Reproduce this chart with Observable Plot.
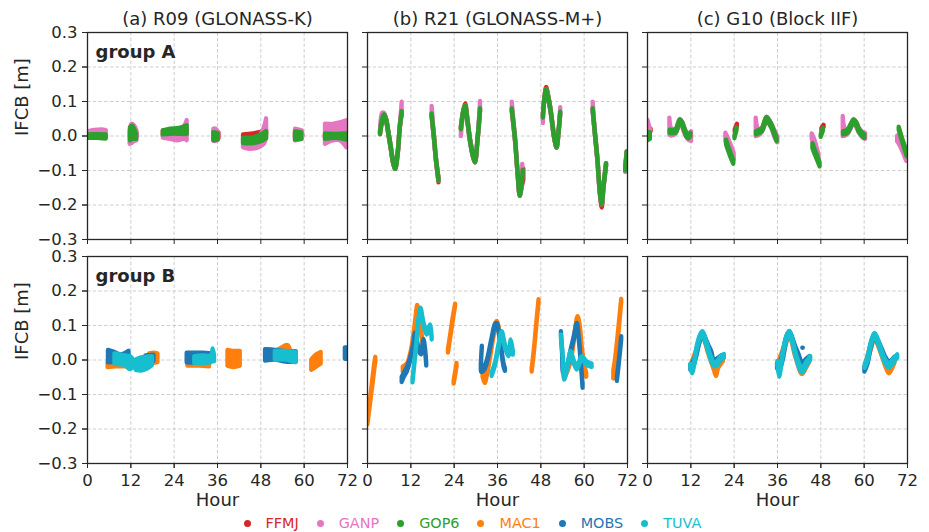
<!DOCTYPE html>
<html><head><meta charset="utf-8">
<script src="https://cdn.jsdelivr.net/npm/d3@7"></script>
<script src="https://cdn.jsdelivr.net/npm/@observablehq/plot@0.6"></script>
<style>
body{margin:0;background:#fff;font-family:"DejaVu Sans",sans-serif;}
#wrap{width:929px;height:532px;position:relative;overflow:hidden;background:#fff}
#legend{position:absolute;left:243.5px;top:512px;height:22px;display:flex;align-items:center;font-size:14.4px;white-space:nowrap}
.item{display:flex;align-items:center;margin-right:18px}
.dot{width:7px;height:7px;border-radius:50%;margin-right:15px}
</style></head><body><div id="wrap"><div id="chart"></div><div id="legend"></div></div>
<script>
// ---- axes / categories ----
const hours = [0, 12, 24, 36, 48, 60, 72];
const ifcbTicks = [-0.3, -0.2, -0.1, 0, 0.1, 0.2, 0.3];
const panelKeys = ["a", "b", "c"];
const panelTitles = ["(a) R09 (GLONASS-K)", "(b) R21 (GLONASS-M+)", "(c) G10 (Block IIF)"];
const groupKeys = ["A", "B"];
const groupLabels = ["group A", "group B"];
const centers = ["FFMJ", "GANP", "GOP6", "MAC1", "MOBS", "TUVA"];
const centerColors = ["#d62728", "#e377c2", "#2ca02c", "#ff7f0e", "#1f77b4", "#17becf"];

// ---- data: arcs of [hour, low IFCB, high IFCB] (m) ----
// panel (a) R09, group A
const a_FFMJ = [
 [[0.3,-0.005,0.004],[5.1,-0.005,0.004]],
 [[11.9,-0.005,0.012],[13.7,-0.003,0.008]],
 [[21,-0.002,0.015],[24.5,-0.007,0.01],[26,-0.006,0.015],[27.6,0.003,0.025]],
 [[35,-0.01,0.012],[36.4,-0.008,0.01]],
 [[43.2,-0.004,0.003],[46,0.0,0.006],[49.6,0.003,0.015]],
 [[57.6,-0.005,0.01],[59.6,-0.001,0.006]],
 [[65.9,-0.005,0.005],[71.8,-0.005,0.005]]
];
const a_GANP = [
 [[0.2,-0.004,0.012],[2,-0.006,0.016],[4,-0.006,0.018],[5.2,-0.006,0.016]],
 [[11.8,-0.024,0.014],[12.3,-0.022,0.034],[13,-0.016,0.03],[13.7,-0.014,0.015]],
 [[21,-0.006,0.005],[23,-0.01,0.005],[25,-0.014,0.01],[27,-0.01,0.03],[27.6,-0.014,0.045]],
 [[35,-0.015,0.02],[35.6,-0.016,0.02],[36.3,-0.01,0.01]],
 [[43.2,-0.034,-0.008],[45,-0.039,-0.012],[47.5,-0.034,-0.004],[49,-0.024,0.025],[49.6,-0.005,0.05]],
 [[57.6,-0.014,0.02],[59.5,-0.01,0.015]],
 [[65.9,-0.024,0.034],[68,-0.014,0.034],[70,-0.014,0.038],[71.8,-0.034,0.044]]
];
const a_GOP6 = [
 [[0.2,-0.007,0.003],[2.5,-0.007,0.004],[5.2,-0.009,0.003]],
 [[11.9,-0.014,0.024],[12.5,-0.01,0.029],[13.6,-0.01,0.005]],
 [[21,0.003,0.015],[23,0.005,0.02],[25.5,0.005,0.022],[27.6,0.004,0.03]],
 [[35,-0.014,0.01],[36.2,-0.012,0.007]],
 [[43.2,-0.022,-0.007],[46,-0.022,-0.005],[48.5,-0.015,0.005],[49.6,-0.008,0.013]],
 [[57.6,-0.012,0.012],[59.3,-0.01,0.01]],
 [[65.9,-0.01,0.006],[69,-0.007,0.005],[71.8,-0.012,0.006]]
];
// panel (b) R21, group A
const b_FFMJ = [
 [[3.6,0.004,0.012],[4.1,0.035,0.045],[4.7,0.054,0.062],[5.3,0.04,0.048],[5.9,0.004,0.012],[6.6,-0.04,-0.032],[7.1,-0.074,-0.066],[7.8,-0.097,-0.089],[8.5,-0.054,-0.046],[9.1,0.023,0.031],[9.6,0.063,0.071]],
 [[17.9,0.056,0.064],[18.6,-0.016,-0.008],[19.1,-0.074,-0.066],[19.8,-0.136,-0.123]],
 [[26.0,0.018,0.026],[26.7,0.066,0.076],[27.2,0.079,0.093],[27.8,0.04,0.05],[28.5,-0.016,-0.008],[29.3,-0.06,-0.052],[29.9,-0.078,-0.07],[30.6,-0.016,-0.008],[31.3,0.071,0.079]],
 [[40.1,0.071,0.079],[41.0,-0.016,-0.008],[41.7,-0.112,-0.104],[42.3,-0.175,-0.167],[42.8,-0.15,-0.142],[43.3,-0.128,-0.095]],
 [[48.7,0.052,0.06],[49.1,0.1,0.11],[49.6,0.127,0.141],[50.2,0.105,0.115],[50.8,0.071,0.079],[51.8,-0.006,0.002],[52.5,-0.035,-0.027],[53.1,0.013,0.021],[53.5,0.061,0.069]],
 [[62.5,0.071,0.079],[63.1,0.004,0.012],[63.8,-0.073,-0.065],[64.5,-0.171,-0.161],[65.0,-0.209,-0.192],[65.5,-0.152,-0.142],[66.2,-0.088,-0.08]],
 [[71.5,-0.102,-0.094],[71.9,-0.054,-0.046]]
];
const b_GANP = [
 [[3.6,0.004,0.012],[4.2,0.045,0.066],[4.7,0.054,0.066],[5.3,0.04,0.048],[5.9,0.004,0.012],[6.6,-0.04,-0.032],[7.1,-0.074,-0.066],[7.8,-0.097,-0.089],[8.5,-0.054,-0.046],[9.1,0.023,0.031],[9.6,0.063,0.098]],
 [[17.9,0.056,0.086],[18.6,-0.016,-0.008],[19.1,-0.074,-0.066],[19.8,-0.131,-0.123]],
 [[26.0,-0.002,0.026],[26.7,0.066,0.074],[27.2,0.079,0.087],[27.8,0.04,0.048],[28.5,-0.016,-0.008],[29.3,-0.06,-0.052],[29.9,-0.078,-0.07],[30.6,-0.016,-0.008],[31.3,0.071,0.1]],
 [[40.1,0.071,0.098],[41.0,-0.016,-0.008],[41.7,-0.112,-0.104],[42.3,-0.175,-0.167],[42.8,-0.15,-0.142],[43.0,-0.107,-0.082]],
 [[48.7,0.036,0.06],[49.1,0.1,0.108],[49.6,0.127,0.135],[50.2,0.105,0.113],[50.8,0.071,0.079],[51.8,-0.006,0.002],[52.5,-0.035,-0.027],[53.1,0.013,0.021],[53.5,0.061,0.082]],
 [[62.5,0.071,0.098],[63.1,0.004,0.012],[63.8,-0.073,-0.065],[64.5,-0.169,-0.161],[65.0,-0.2,-0.192],[65.5,-0.15,-0.142],[66.2,-0.088,-0.08]],
 [[71.5,-0.106,-0.094],[71.9,-0.054,-0.046]]
];
const b_GOP6 = [
 [[3.6,0.004,0.012],[4.1,0.035,0.045],[4.7,0.054,0.062],[5.3,0.04,0.048],[5.9,0.004,0.012],[6.6,-0.04,-0.032],[7.1,-0.074,-0.066],[7.8,-0.097,-0.089],[8.5,-0.054,-0.046],[9.1,0.023,0.031],[9.6,0.063,0.071]],
 [[17.9,0.056,0.064],[18.6,-0.016,-0.008],[19.1,-0.074,-0.066],[19.8,-0.131,-0.123]],
 [[26.0,0.018,0.026],[26.7,0.066,0.074],[27.2,0.079,0.087],[27.8,0.04,0.048],[28.5,-0.016,-0.008],[29.3,-0.06,-0.052],[29.9,-0.078,-0.07],[30.6,-0.016,-0.008],[31.3,0.071,0.079]],
 [[40.1,0.071,0.079],[41.0,-0.016,-0.008],[41.7,-0.112,-0.104],[42.3,-0.175,-0.167],[42.8,-0.15,-0.142],[43.1,-0.107,-0.099]],
 [[48.7,0.052,0.06],[49.1,0.1,0.108],[49.6,0.127,0.135],[50.2,0.105,0.113],[50.8,0.071,0.079],[51.8,-0.006,0.002],[52.5,-0.035,-0.027],[53.1,0.013,0.021],[53.5,0.061,0.069]],
 [[62.5,0.071,0.079],[63.1,0.004,0.012],[63.8,-0.073,-0.065],[64.5,-0.169,-0.161],[65.0,-0.2,-0.192],[65.5,-0.15,-0.142],[66.2,-0.088,-0.08]],
 [[71.5,-0.102,-0.094],[71.9,-0.054,-0.046]]
];
// panel (c) G10, group A
const c_FFMJ = [
 [[0.4,0.012,0.02],[1.0,0.012,0.02]],
 [[6.3,0.008,0.016],[7.9,0.009,0.017],[8.6,0.026,0.034],[9.1,0.038,0.046],[9.7,0.031,0.039],[10.4,0.011,0.019],[11.0,-0.004,0.004],[11.5,-0.007,0.001],[12.1,0.0,0.01]],
 [[24.3,0.01,0.018],[24.9,0.027,0.034]],
 [[30.2,0.004,0.012],[31.8,0.013,0.021],[32.5,0.031,0.039],[33.1,0.045,0.053],[33.8,0.036,0.044],[34.5,0.023,0.031],[35.2,0.004,0.012],[35.9,-0.016,-0.008]],
 [[48.3,0.014,0.022],[48.9,0.024,0.031]],
 [[54.3,0.004,0.012],[55.5,0.008,0.016],[56.5,0.026,0.034],[57.2,0.037,0.045],[58,0.029,0.037],[58.6,0.013,0.021],[59.4,0.001,0.009],[60.2,-0.006,0.002]],
 [[69.3,-0.016,-0.008],[69.8,-0.01,0.0]]
];
const c_GANP = [
 [[0.1,-0.004,0.046],[0.8,-0.004,0.02]],
 [[6.2,0.002,0.052],[6.8,0.0,0.02],[7.9,0.005,0.02],[9.1,0.035,0.048],[10.4,0.006,0.02],[11.4,-0.012,0.006],[12.2,-0.016,0.012]],
 [[21.7,-0.016,0.008],[22.5,-0.04,-0.01],[23.3,-0.06,-0.03],[24.0,-0.07,-0.05]],
 [[30.1,-0.002,0.052],[30.8,0.0,0.02],[31.8,0.01,0.02],[33.1,0.042,0.055],[34.5,0.02,0.033],[35.3,-0.005,0.015],[36.1,-0.02,-0.002]],
 [[45.6,-0.008,0.006],[46.3,-0.035,-0.01],[47.0,-0.06,-0.035],[47.5,-0.075,-0.055]],
 [[54.2,-0.002,0.057],[54.9,0.0,0.02],[55.8,0.008,0.02],[57.2,0.035,0.048],[58.6,0.01,0.024],[59.5,-0.004,0.012],[60.4,-0.01,0.008]],
 [[69.3,-0.016,0.0],[70.5,-0.04,-0.01],[71.8,-0.074,-0.044]]
];
const c_GOP6 = [
 [[0.1,-0.014,0.01],[0.8,-0.01,0.01]],
 [[6.3,0.007,0.017],[7.9,0.008,0.018],[8.6,0.025,0.035],[9.1,0.037,0.047],[9.7,0.03,0.04],[10.4,0.01,0.02],[11.0,-0.005,0.005],[11.5,-0.008,0.002],[12.0,-0.002,0.008]],
 [[21.9,-0.026,-0.012],[22.5,-0.045,-0.032],[23.2,-0.065,-0.052],[23.9,-0.082,-0.07]],
 [[24.2,-0.008,0.0],[24.8,0.016,0.024]],
 [[30.2,0.003,0.013],[31.8,0.012,0.022],[32.5,0.03,0.04],[33.1,0.044,0.054],[33.8,0.035,0.045],[34.5,0.022,0.032],[35.2,0.003,0.013],[35.9,-0.017,-0.007]],
 [[45.8,-0.036,-0.022],[46.5,-0.056,-0.042],[47.2,-0.074,-0.06],[47.8,-0.09,-0.078]],
 [[48.1,-0.004,0.004],[48.7,0.014,0.022]],
 [[54.3,0.003,0.013],[55.5,0.007,0.017],[56.5,0.025,0.035],[57.2,0.036,0.046],[58,0.028,0.038],[58.6,0.012,0.022],[59.4,0.0,0.01],[60.2,-0.007,0.003]],
 [[69.7,0.016,0.026],[70.6,-0.016,-0.006],[71.9,-0.06,-0.048]]
];
// panel (a) R09, group B
const a_MAC1 = [
 [[5.7,-0.022,-0.008],[8,-0.02,-0.01],[11,-0.02,-0.012]],
 [[17.2,-0.008,0.018],[18.4,-0.01,0.02],[19.5,-0.008,0.018]],
 [[27.8,-0.018,-0.008],[31,-0.018,-0.01],[33.8,-0.02,-0.01]],
 [[38.9,-0.018,0.028],[40.5,-0.022,0.025],[42.3,-0.018,0.025]],
 [[49.5,0.018,0.03],[52.5,0.018,0.028],[55.5,0.02,0.042],[56.2,0.02,0.028]],
 [[62.1,-0.03,0.0],[63.5,-0.02,0.015],[64.7,-0.012,0.022]]
];
const a_MOBS = [
 [[5.8,-0.008,0.028],[7.5,-0.006,0.022],[9.5,0.0,0.015],[11.5,0.008,0.025]],
 [[16.2,-0.004,0.012],[18.4,-0.004,0.014]],
 [[27.6,-0.008,0.02],[30,-0.008,0.02],[32,0.002,0.02],[34.3,0.002,0.018]],
 [[49.3,-0.003,0.03],[52,0.0,0.028],[55,-0.006,0.024],[57.8,-0.006,0.024]],
 [[71.4,0.002,0.035],[71.9,0.002,0.035]]
];
const a_TUVA = [
 [[7.6,-0.012,0.018],[9,-0.014,0.015],[10.5,-0.016,0.012],[11.8,-0.028,0.01],[12.5,-0.025,0.004]],
 [[13.5,-0.03,0.0],[15,-0.032,0.006],[16.5,-0.027,0.008],[18,-0.016,0.01]],
 [[29.7,-0.01,0.01],[32,-0.01,0.012],[34.3,-0.008,0.012],[34.8,-0.005,0.032],[35.2,-0.005,0.01]],
 [[52,0.0,0.025],[55,0.0,0.025],[57.8,-0.008,0.022]]
];
// panel (b) R21, group B
const b_MAC1 = [
 [[0.1,-0.188,-0.178],[0.6,-0.148,-0.135],[1.1,-0.105,-0.09],[1.6,-0.065,-0.045],[2.0,-0.03,-0.01],[2.3,-0.005,0.008]],
 [[9.9,-0.035,-0.02],[11.0,-0.025,-0.012],[12.0,0.01,0.02],[12.8,0.06,0.07],[13.4,0.11,0.12],[13.9,0.15,0.158],[14.4,0.125,0.135],[14.9,0.08,0.09],[15.5,0.04,0.05]],
 [[22.4,0.02,0.03],[23.0,0.06,0.07],[23.7,0.11,0.12],[24.4,0.155,0.162]],
 [[24.0,-0.07,-0.06],[24.4,-0.045,-0.035],[24.8,-0.02,-0.01]],
 [[32.0,-0.05,-0.03],[32.6,-0.068,-0.05],[33.3,-0.04,-0.025],[34.0,0.0,0.01],[35.0,0.065,0.075],[35.9,0.105,0.112],[36.6,0.075,0.085],[37.3,0.015,0.025]],
 [[45.6,-0.035,-0.025],[46.2,0.02,0.03],[46.9,0.1,0.11],[47.5,0.165,0.175]],
 [[54.6,-0.055,-0.02],[55.5,-0.035,-0.02],[56.5,0.0,0.01],[57.5,0.07,0.08],[58.3,0.118,0.126],[58.9,0.09,0.1],[59.5,0.025,0.035],[60.1,-0.02,-0.01],[60.7,-0.05,-0.04]],
 [[68.2,-0.055,-0.03],[68.6,-0.025,-0.005],[69.3,0.04,0.06],[70.0,0.12,0.135],[70.4,0.168,0.176]]
];
const b_MOBS = [
 [[9.6,-0.065,-0.05],[10.2,-0.05,-0.038],[11.0,-0.035,-0.022],[11.9,-0.005,0.005],[12.8,0.035,0.045],[13.3,0.068,0.078],[13.8,0.05,0.06],[14.3,0.025,0.035],[15.0,0.015,0.03],[15.6,0.05,0.06],[16.0,0.03,0.04],[16.4,-0.018,-0.008]],
 [[31.8,0.032,0.04],[31.6,-0.005,0.005],[31.6,-0.036,-0.028],[32.3,-0.032,-0.022],[33.1,-0.014,-0.004],[34.5,0.053,0.063],[35.5,0.095,0.105],[36.0,0.095,0.105],[36.8,0.053,0.063],[37.8,-0.02,-0.01],[38.2,-0.033,-0.025]],
 [[53.7,0.074,0.082],[54.0,0.02,0.03],[54.4,-0.042,-0.032],[55.5,-0.022,-0.012],[56.4,0.02,0.03],[57.2,0.055,0.065],[58.1,0.096,0.106],[58.6,0.06,0.07],[59.0,0.015,0.025],[59.4,-0.04,-0.03],[59.7,-0.082,-0.072]],
 [[69.2,-0.062,-0.05],[69.6,-0.025,-0.015],[70.0,0.015,0.025],[70.4,0.058,0.068]]
];
const b_TUVA = [
 [[12.6,-0.066,-0.058],[13.2,-0.005,0.005],[13.8,0.055,0.065],[14.3,0.115,0.125],[14.8,0.142,0.15],[15.6,0.1,0.11],[16.5,0.072,0.082],[17.0,0.082,0.092],[17.5,0.092,0.102],[17.9,0.058,0.068]],
 [[34.5,-0.048,-0.038],[35.5,-0.015,-0.005],[36.4,0.034,0.044],[37.3,0.072,0.082],[38.2,0.034,0.044],[39.2,0.01,0.02],[39.8,0.048,0.058],[40.4,0.014,0.024]],
 [[53.7,0.063,0.073],[54.2,0.005,0.015],[54.6,-0.058,-0.048],[55.5,-0.024,-0.014],[56.4,0.014,0.024],[57.2,-0.01,0.0],[58.1,-0.029,-0.019],[59.5,0.0,0.01],[60.8,-0.015,-0.005],[62.2,-0.022,-0.012]]
];
// panel (c) G10, group B
const c_MAC1 = [
 [[12.2,-0.025,-0.012],[13.5,0.012,0.025],[15.3,0.065,0.075],[17,0.015,0.028],[18.5,-0.03,-0.018],[19.1,-0.048,-0.035],[19.7,-0.025,-0.012],[21,-0.005,0.008]],
 [[36.2,-0.025,-0.01],[37.8,0.02,0.035],[39.4,0.068,0.078],[41,0.01,0.022],[42.9,-0.042,-0.03],[44,-0.025,-0.01],[45,-0.005,0.008]],
 [[60.5,-0.025,-0.01],[62,0.03,0.045],[63,0.06,0.07],[64.5,0.025,0.04],[66.2,-0.025,-0.01],[67,-0.04,-0.028],[68.5,-0.01,0.005]]
];
const c_MOBS = [
 [[12.0,-0.03,-0.015],[13,-0.015,0.0],[14.5,0.048,0.062],[15.3,0.07,0.08],[16.2,0.05,0.062],[17,0.03,0.042],[17.8,0.01,0.024],[18.5,-0.015,0.0],[19.5,-0.01,0.004],[20.5,0.0,0.012]],
 [[36.0,-0.025,-0.01],[37,-0.02,0.0],[38.6,0.055,0.068],[39.4,0.072,0.082],[40.2,0.055,0.065],[41,0.028,0.04],[42,0.0,0.015],[43,-0.025,-0.01],[44,-0.012,0.002],[45,0.0,0.01]],
 [[43.0,0.034,0.034],[43.15,0.034,0.034]],
 [[60.2,-0.035,-0.02],[61,-0.015,-0.002],[62,0.035,0.048],[63,0.063,0.073],[64,0.045,0.055],[65,0.02,0.032],[66,-0.005,0.008],[67,-0.02,-0.005],[68.5,-0.005,0.008]]
];
const c_TUVA = [
 [[12.0,-0.024,-0.012],[12.5,-0.04,-0.028],[13.0,-0.02,-0.008],[13.7,0.024,0.036],[14.5,0.055,0.067],[15.3,0.072,0.082],[16.0,0.055,0.067],[16.9,0.024,0.036],[17.8,-0.006,0.006],[18.6,-0.02,-0.008],[19.5,-0.016,-0.004],[20.4,0.0,0.01],[21.3,0.004,0.016]],
 [[36.1,-0.016,-0.004],[36.6,-0.05,-0.038],[37.2,-0.016,-0.004],[37.8,0.024,0.036],[38.6,0.055,0.067],[39.4,0.073,0.083],[40.2,0.05,0.062],[41,0.014,0.026],[42,-0.02,-0.008],[42.9,-0.038,-0.026],[44,-0.02,-0.008],[45.2,0.0,0.01]],
 [[60.3,-0.024,-0.012],[61,-0.006,0.006],[62,0.04,0.052],[63,0.065,0.077],[64,0.045,0.057],[65,0.014,0.026],[66,-0.012,0.0],[67,-0.024,-0.012],[68,-0.012,0.0],[69.3,0.005,0.015]]
];

// ---- build the table (draw order = series order) ----
const seriesList = [
 ["a","A","FFMJ",a_FFMJ],["a","A","GANP",a_GANP],["a","A","GOP6",a_GOP6],
 ["b","A","FFMJ",b_FFMJ],["b","A","GANP",b_GANP],["b","A","GOP6",b_GOP6],
 ["c","A","FFMJ",c_FFMJ],["c","A","GANP",c_GANP],["c","A","GOP6",c_GOP6],
 ["a","B","MAC1",a_MAC1],["a","B","MOBS",a_MOBS],["a","B","TUVA",a_TUVA],
 ["b","B","MAC1",b_MAC1],["b","B","MOBS",b_MOBS],["b","B","TUVA",b_TUVA],
 ["c","B","MAC1",c_MAC1],["c","B","MOBS",c_MOBS],["c","B","TUVA",c_TUVA]
];
const table = seriesList.flatMap(([panel, group, center, arcs]) =>
  arcs.flatMap((arc, i) => arc.map(([h, lo, hi]) => ({panel, group, center, arc: panel + group + center + i, h, lo, hi}))));

const titleRows = panelKeys.map((k, i) => ({panel: k, group: "A", text: panelTitles[i]}));
const groupRows = groupKeys.map((g, i) => ({panel: "a", group: g, text: groupLabels[i]}));
const hourRows = panelKeys.map(k => ({panel: k, group: "B", text: "Hour"}));
const fmtY = d => (d < 0 ? "\u2212" : "") + Math.abs(d).toFixed(1);

const chart = Plot.plot({
  width: 929, height: 511,
  marginTop: 32, marginRight: 22, marginBottom: 48, marginLeft: 87,
  style: {background: "#fff", color: "#262626", fontFamily: "'DejaVu Sans', sans-serif", fontSize: "16.5px", overflow: "visible"},
  x: {domain: [0, 72], label: null},
  y: {domain: [-0.3, 0.3], label: null},
  fx: {domain: panelKeys, axis: null, paddingInner: 20 / 280, paddingOuter: 0, round: false},
  fy: {domain: groupKeys, axis: null, paddingInner: 17 / 224, paddingOuter: 0, round: false},
  color: {domain: centers, range: centerColors},
  marks: [
    Plot.gridX(hours, {stroke: "#c8c8c8", strokeOpacity: 1, strokeDasharray: "3.5,2.2", strokeWidth: 0.9}),
    Plot.gridY(ifcbTicks, {stroke: "#c8c8c8", strokeOpacity: 1, strokeDasharray: "3.5,2.2", strokeWidth: 0.9}),
    Plot.areaY(table, {x: "h", y1: "lo", y2: "hi", z: "arc", fill: "center", stroke: "center", strokeWidth: 4.3,
      strokeLinejoin: "round", curve: "catmull-rom", fx: "panel", fy: "group", clip: true}),
    Plot.frame({stroke: "#262626", strokeWidth: 1.3}),
    Plot.axisX(hours, {facetAnchor: null, tickSize: 5, tickFormat: () => "", label: null}),
    Plot.axisX(hours, {facetAnchor: "bottom", tickSize: 5, tickPadding: 6, fontSize: 16.5, label: null}),
    Plot.axisY(ifcbTicks, {facetAnchor: null, tickSize: 5, tickFormat: () => "", label: null}),
    Plot.axisY(ifcbTicks, {facetAnchor: "left", tickSize: 5, tickPadding: 5, tickFormat: fmtY, fontSize: 16.5, label: null}),
    Plot.text(titleRows, {fx: "panel", fy: "group", text: "text", frameAnchor: "top", lineAnchor: "middle", dy: -13, fontSize: 18}),
    Plot.text(groupRows, {fx: "panel", fy: "group", text: "text", frameAnchor: "top-left", lineAnchor: "middle", dx: 8, dy: 20, textAnchor: "start", fontWeight: "bold", fontSize: 18}),
    Plot.text(hourRows, {fx: "panel", fy: "group", text: "text", frameAnchor: "bottom", lineAnchor: "middle", dy: 37, fontSize: 18}),
    Plot.text(groupRows, {fx: "panel", fy: "group", text: () => "IFCB [m]", frameAnchor: "left", lineAnchor: "middle", dx: -65, rotate: -90, fontSize: 18})
  ]
});
document.getElementById("chart").appendChild(chart);

const legend = document.getElementById("legend");
centers.forEach((c, i) => {
  const item = document.createElement("div");
  item.className = "item";
  const dot = document.createElement("span");
  dot.className = "dot";
  dot.style.background = centerColors[i];
  const label = document.createElement("span");
  label.textContent = c;
  label.style.color = centerColors[i];
  item.appendChild(dot); item.appendChild(label);
  legend.appendChild(item);
});
</script></body></html>
